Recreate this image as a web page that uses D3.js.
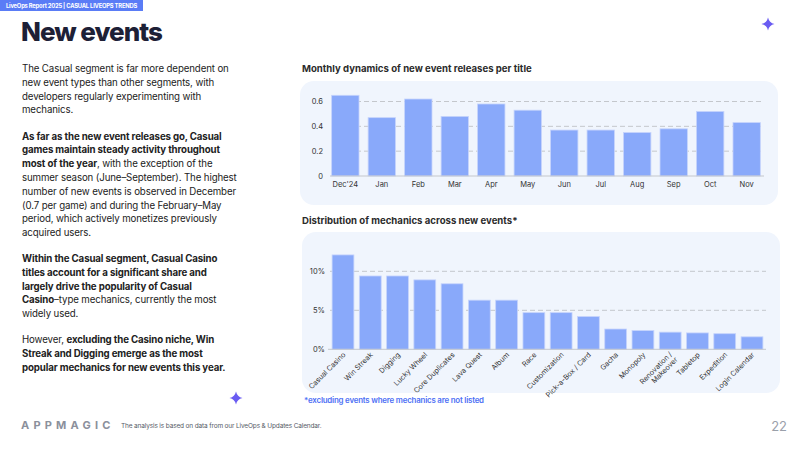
<!DOCTYPE html>
<html>
<head>
<meta charset="utf-8">
<script src="https://cdn.jsdelivr.net/npm/d3@7"></script>
<style>
  body { margin: 0; background: #fff; }
  svg { display: block; font-family: Inter, "Noto Sans", sans-serif; }
</style>
</head>
<body>
<svg id="page" width="800" height="450"></svg>
<script>
// Monthly dynamics of new event releases per title
const months = ["Dec'24", "Jan", "Feb", "Mar", "Apr", "May", "Jun", "Jul", "Aug", "Sep", "Oct", "Nov"];
const releases = [0.65, 0.47, 0.62, 0.48, 0.58, 0.53, 0.37, 0.37, 0.35, 0.38, 0.52, 0.43];
const releaseTicks = [0, 0.2, 0.4, 0.6];

// Distribution of mechanics across new events
const mechanics = ["Casual Casino", "Win Streak", "Digging", "Lucky Wheel", "Core Duplicates", "Lava Quest",
  "Album", "Race", "Customization", "Pick-a-Box / Card", "Gacha", "Monopoly", "Renovation / Makeover",
  "Tabletop", "Expedition", "Login Calendar"];
const shares = [12.1, 9.4, 9.4, 8.9, 8.4, 6.3, 6.3, 4.7, 4.7, 4.2, 2.6, 2.4, 2.2, 2.1, 2.0, 1.6];
const shareTicks = [0, 5, 10];

const barColor = "#89a9fa";
const panelColor = "#f0f5fd";

const svg = d3.select("#page");

// header band
svg.append("rect").attr("x", 0).attr("y", 0).attr("width", 143).attr("height", 11).attr("fill", "#5a7cf6");
svg.append("text").attr("x", 6).attr("y", 8)
  .attr("font-size", 5.8).attr("font-weight", 700).attr("fill", "#fff")
  .attr("letter-spacing", -0.2)
  .text("LiveOps Report 2025  |  CASUAL LIVEOPS TRENDS");

// title
svg.append("text").attr("x", 21).attr("y", 41)
  .attr("font-size", 26).attr("font-weight", 800).attr("fill", "#1d2036")
  .attr("letter-spacing", -1)
  .text("New events");

// sparkles
function sparkle(cx, cy, r) {
  const k = r * 0.18;
  const p = `M${cx},${cy - r} Q${cx + k},${cy - k} ${cx + r},${cy} Q${cx + k},${cy + k} ${cx},${cy + r} Q${cx - k},${cy + k} ${cx - r},${cy} Q${cx - k},${cy - k} ${cx},${cy - r}Z`;
  svg.append("path").attr("d", p).attr("fill", "#6a5cf2");
}
sparkle(768, 24, 6.5);
sparkle(236, 398, 6.5);

// left text column
const paragraphs = [
  { y: 72, lines: [
    [["The Casual segment is far more dependent on", 0]],
    [["new event types than other segments, with", 0]],
    [["developers regularly experimenting with", 0]],
    [["mechanics.", 0]]
  ]},
  { y: 139.5, lines: [
    [["As far as the new event releases go, Casual", 1]],
    [["games maintain steady activity throughout", 1]],
    [["most of the year", 1], [", with the exception of the", 0]],
    [["summer season (June–September). The highest", 0]],
    [["number of new events is observed in December", 0]],
    [["(0.7 per game) and during the February–May", 0]],
    [["period, which actively monetizes previously", 0]],
    [["acquired users.", 0]]
  ]},
  { y: 262, lines: [
    [["Within the Casual segment, Casual Casino", 1]],
    [["titles account for a significant share and", 1]],
    [["largely drive the popularity of Casual", 1]],
    [["Casino", 1], ["–type mechanics, currently the most", 0]],
    [["widely used.", 0]]
  ]},
  { y: 343, lines: [
    [["However, ", 0], ["excluding the Casino niche, Win", 1]],
    [["Streak and Digging emerge as the most", 1]],
    [["popular mechanics for new events this year.", 1]]
  ]}
];
const body = svg.append("g").attr("font-size", 9.7).attr("fill", "#222");
paragraphs.forEach(p => {
  p.lines.forEach((segs, i) => {
    const t = body.append("text").attr("x", 22).attr("y", p.y + i * 13.8).attr("letter-spacing", -0.12);
    segs.forEach(s => t.append("tspan").attr("font-weight", s[1] ? 700 : 400).text(s[0]));
  });
});

// ---------- chart 1 ----------
svg.append("text").attr("x", 302).attr("y", 72)
  .attr("font-size", 9.6).attr("font-weight", 700).attr("fill", "#2b2b2b")
  .text("Monthly dynamics of new event releases per title");
svg.append("rect").attr("x", 300).attr("y", 81).attr("width", 478).attr("height", 124)
  .attr("rx", 14).attr("fill", panelColor);

const x1 = d3.scaleBand().domain(months).range([328, 764]).paddingInner(0.25).paddingOuter(0.1);
const y1 = d3.scaleLinear().domain([0, 0.6]).range([176, 101.5]);

const g1 = svg.append("g");
g1.append("g").selectAll("line").data(releaseTicks.filter(d => d > 0)).enter().append("line")
  .attr("x1", 332).attr("x2", 764).attr("y1", d => y1(d)).attr("y2", d => y1(d))
  .attr("stroke", "#c4c7cc").attr("stroke-dasharray", "5,3");
g1.append("g").selectAll("rect").data(releases).enter().append("rect")
  .attr("x", (d, i) => x1(months[i])).attr("width", x1.bandwidth())
  .attr("y", d => y1(d)).attr("height", d => y1(0) - y1(d))
  .attr("fill", barColor).attr("stroke", "#c6d4fc").attr("stroke-width", 0.8);
g1.append("line").attr("x1", 330).attr("x2", 764).attr("y1", y1(0)).attr("y2", y1(0))
  .attr("stroke", "#c4c7cc");

const ax1 = g1.append("g").attr("transform", `translate(0,${y1(0)})`)
  .call(d3.axisBottom(x1).tickSize(0).tickPadding(6));
ax1.select(".domain").remove();
ax1.selectAll("text").attr("font-size", 7.5).attr("fill", "#333").attr("font-family", "Inter, sans-serif");

const ay1 = g1.append("g").attr("transform", "translate(323,0)")
  .call(d3.axisLeft(y1).tickValues(releaseTicks).tickSize(0).tickPadding(0)
    .tickFormat(d => d === 0 ? "0" : d3.format(".1f")(d)));
ay1.select(".domain").remove();
ay1.selectAll("text").attr("font-size", 7.5).attr("fill", "#333").attr("font-family", "Inter, sans-serif");

// ---------- chart 2 ----------
svg.append("text").attr("x", 302).attr("y", 223.5)
  .attr("font-size", 9.6).attr("font-weight", 700).attr("fill", "#2b2b2b")
  .text("Distribution of mechanics across new events*");
svg.append("rect").attr("x", 302).attr("y", 232).attr("width", 478).attr("height", 161)
  .attr("rx", 14).attr("fill", panelColor);

const x2 = d3.scaleBand().domain(mechanics).range([328, 767]).paddingInner(0.2).paddingOuter(0.15);
const y2 = d3.scaleLinear().domain([0, 10]).range([349.3, 271.3]);

const g2 = svg.append("g");
g2.append("g").selectAll("line").data(shareTicks.filter(d => d > 0)).enter().append("line")
  .attr("x1", 330).attr("x2", 766).attr("y1", d => y2(d)).attr("y2", d => y2(d))
  .attr("stroke", "#c4c7cc").attr("stroke-dasharray", "5,3");
g2.append("g").selectAll("rect").data(shares).enter().append("rect")
  .attr("x", (d, i) => x2(mechanics[i])).attr("width", x2.bandwidth())
  .attr("y", d => y2(d)).attr("height", d => y2(0) - y2(d))
  .attr("fill", barColor).attr("stroke", "#c6d4fc").attr("stroke-width", 0.8);
g2.append("line").attr("x1", 328).attr("x2", 766).attr("y1", y2(0)).attr("y2", y2(0))
  .attr("stroke", "#c4c7cc");

const ay2 = g2.append("g").attr("transform", "translate(325,0)")
  .call(d3.axisLeft(y2).tickValues(shareTicks).tickSize(0).tickPadding(0).tickFormat(d => d + "%"));
ay2.select(".domain").remove();
ay2.selectAll("text").attr("font-size", 7.5).attr("fill", "#333").attr("font-family", "Inter, sans-serif");

// rotated category labels
const lab = g2.append("g").selectAll("text").data(mechanics).enter().append("text")
  .attr("transform", d => `translate(${x2(d) + x2.bandwidth() / 2 + 3},${y2(0) + 6}) rotate(-45)`)
  .attr("text-anchor", "end").attr("font-size", 7.2).attr("fill", "#333");
lab.each(function (d) {
  const t = d3.select(this);
  if (d === "Renovation / Makeover") {
    t.append("tspan").attr("x", 0).attr("dy", "-0.1em").text("Renovation /");
    t.append("tspan").attr("x", 0).attr("dy", "1.05em").text("Makeover");
  } else {
    t.text(d);
  }
});

svg.append("text").attr("x", 304).attr("y", 403)
  .attr("font-size", 7.9).attr("font-weight", 600).attr("fill", "#4d6ff5")
  .attr("letter-spacing", -0.2)
  .text("*excluding events where mechanics are not listed");

// ---------- footer ----------
svg.append("text").attr("x", 21).attr("y", 429)
  .attr("font-size", 11).attr("font-weight", 700).attr("fill", "#8b909c")
  .attr("letter-spacing", 4.2)
  .text("APPMAGIC");
svg.append("text").attr("x", 121).attr("y", 427.5)
  .attr("font-size", 6.5).attr("fill", "#555a66").attr("letter-spacing", -0.15)
  .text("The analysis is based on data from our LiveOps & Updates Calendar.");
svg.append("text").attr("x", 787).attr("y", 431).attr("text-anchor", "end")
  .attr("font-size", 13).attr("fill", "#9aa0aa")
  .text("22");
</script>
</body>
</html>
